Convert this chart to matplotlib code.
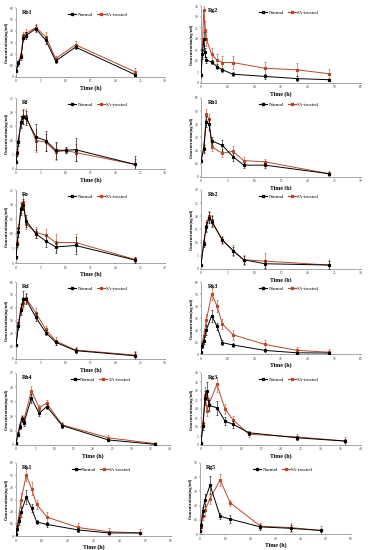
import matplotlib
matplotlib.use("Agg")
import matplotlib.pyplot as plt
from matplotlib.lines import Line2D

plt.rcParams['font.family'] = ['Liberation Serif', 'DejaVu Serif']

# ---------------- data ----------------
rb1_t = [0, 0.5, 1, 1.5, 2, 4, 6, 8, 12, 24]
rb1_normal = [5, 12, 17, 34, 36, 42, 32, 14, 26, 2]
rb1_sa = [6, 13, 19, 36, 38, 43, 35, 16, 28, 4.5]
rb1_normal_err = [1, 2, 2, 3, 3, 3, 3, 1.5, 2, 1]
rb1_sa_err = [1, 2, 2, 3, 4, 3, 4, 2, 3, 3]

rg2_t = [0, 0.5, 1, 1.5, 2, 4, 6, 8, 12, 24, 36, 48]
rg2_normal = [3.5, 13, 20, 14, 10.5, 9.5, 7.5, 6, 4, 3, 2, 1.5]
rg2_sa = [3.5, 15, 33, 24, 20, 13, 10.4, 9.3, 9.3, 6.7, 6, 4.2]
rg2_normal_err = [0.5, 2, 3, 2, 1.5, 1, 1, 1, 1, 1, 1, 0.5]
rg2_sa_err = [1, 3, 5, 4, 3, 3, 3, 3, 3, 3, 3, 2]

rf_t = [0, 0.25, 0.5, 1, 1.5, 2, 4, 6, 8, 10, 12, 24]
rf_normal = [2.5, 5.5, 9.5, 16.5, 18.2, 18, 11.3, 10, 6.6, 6.6, 6.8, 1.6]
rf_sa = [2.5, 6, 10, 16.7, 18.5, 18.8, 10, 9.5, 6, 6.5, 5.8, 1.6]
rf_normal_err = [0.5, 1, 1.5, 2, 2.5, 2.5, 4.5, 3.5, 3, 1, 4, 3]
rf_sa_err = [0.5, 1, 1.5, 2, 2.5, 2.5, 4, 3, 3, 1, 3, 2]

rh1_t = [0, 0.5, 1, 1.5, 2, 4, 6, 8, 12, 24]
rh1_normal = [12.5, 21, 42, 40, 27.5, 24, 15.5, 9, 9, 2.5]
rh1_sa = [12.5, 22, 47.5, 44, 23, 18, 19.5, 12.5, 11.5, 2.5]
rh1_normal_err = [1, 3, 4, 4, 3, 4, 3, 2, 2, 1]
rh1_sa_err = [1, 3, 4, 4, 3, 3, 4, 3, 2, 2]

re_t = [0, 0.25, 0.5, 1, 1.5, 2, 4, 6, 8, 12, 24]
re_normal = [2, 6.5, 10.5, 18.5, 20, 14.5, 10, 7.5, 5.5, 6, 1]
re_sa = [2, 7, 12, 19, 21, 13.5, 10.5, 9.5, 7, 7, 1.2]
re_normal_err = [0.5, 1, 1.5, 2, 2, 2, 1.5, 2, 2, 3, 1]
re_sa_err = [0.5, 1, 1.5, 2, 2.5, 2, 2, 2, 3, 3, 1]

rb2_t = [0, 0.5, 1, 1.5, 2, 4, 6, 8, 12, 24]
rb2_normal = [1.5, 9.5, 16, 19.5, 18, 11, 7, 3.5, 2, 1.5]
rb2_sa = [1.5, 10, 16.5, 20, 18.5, 11, 7, 3.5, 3, 1.5]
rb2_normal_err = [0.5, 1, 2, 2, 2, 1, 1.5, 1.5, 1.5, 1.5]
rb2_sa_err = [0.5, 1, 2, 2, 2, 1.5, 2, 2, 3, 2]

rd_t = [0, 0.5, 1, 1.5, 2, 4, 6, 8, 12, 24]
rd_normal = [11, 26, 38.5, 47, 46.5, 32.5, 20.5, 13, 6.5, 2.5]
rd_sa = [11, 28, 40, 44, 47.5, 36, 23, 14, 7, 3]
rd_normal_err = [1, 3, 4, 6, 4, 3, 2, 2, 2, 3]
rd_sa_err = [1, 3, 4, 4, 4, 4, 3, 3, 2, 3]

rk3_t = [0, 0.5, 1, 2, 4, 6, 8, 12, 24, 36, 48]
rk3_normal = [1.5, 7, 11, 20, 32, 23, 9.5, 7.5, 3, 1, 0.8]
rk3_sa = [1.5, 8, 15, 28, 50, 40, 25, 16, 8, 3, 1.5]
rk3_normal_err = [0.5, 2, 3, 4, 5, 3, 2, 2, 1, 0.5, 0.5]
rk3_sa_err = [0.5, 3, 4, 5, 5, 5, 4, 4, 4, 3, 3]

rh4_t = [0, 0.5, 1, 1.5, 2, 4, 6, 8, 12, 24, 36]
rh4_normal = [1.2, 7, 12.8, 18, 15, 32.5, 22, 26.7, 13.5, 3.5, 0.5]
rh4_sa = [1.2, 8, 13.5, 19, 17, 37.7, 26, 29, 14, 5, 1]
rh4_normal_err = [0.5, 1, 1.5, 2, 2, 3, 2, 2, 1.5, 1, 0.5]
rh4_sa_err = [0.5, 1, 2, 2, 2, 3, 2, 2, 2, 2, 1]

rg3_t = [0, 0.5, 1, 1.5, 2, 4, 6, 8, 12, 24, 36]
rg3_normal = [1.3, 10.5, 26, 30, 22, 20.7, 13.3, 11.5, 6.8, 4, 2.2]
rg3_sa = [1.3, 12, 28, 19, 23, 33.7, 20, 14, 6, 4.5, 2.2]
rg3_normal_err = [0.5, 2, 4, 5, 3, 4, 2, 2, 1, 1, 1]
rg3_sa_err = [0.5, 2, 4, 3, 3, 4, 3, 2, 1.5, 1.5, 2]

rk1_t = [0, 0.5, 1, 2, 4, 6, 8, 12, 24, 36, 48]
rk1_normal = [1.5, 6, 12, 20, 32, 23, 11.5, 9.5, 5, 2.5, 2.5]
rk1_sa = [1.5, 8, 15, 30, 50, 39, 26, 15.5, 7, 3.5, 2.5]
rk1_normal_err = [0.5, 2, 3, 4, 6, 3, 2, 2, 1.5, 1, 1]
rk1_sa_err = [0.5, 3, 4, 5, 5, 5, 4, 4, 4, 3, 3]

rg5_t = [0, 0.5, 1, 2, 4, 8, 12, 24, 36, 48]
rg5_normal = [2, 6, 16, 24, 34.5, 12.5, 10.5, 5, 4, 2.5]
rg5_sa = [2, 5, 13, 17, 25, 38, 22, 5.5, 4.5, 2.5]
rg5_normal_err = [0.5, 2, 3, 4, 6, 2, 3, 2, 2, 1]
rg5_sa_err = [0.5, 2, 3, 4, 4, 4, 2, 2, 3, 3]

panel_names = ['Rb1', 'Rg2', 'Rf', 'Rh1', 'Re', 'Rb2',
               'Rd', 'Rk3', 'Rh4', 'Rg3', 'Rk1', 'Rg5']

panels = [
    (rb1_t, rb1_normal, rb1_sa, rb1_normal_err, rb1_sa_err, (0, 30, 5), (0, 60, 10)),
    (rg2_t, rg2_normal, rg2_sa, rg2_normal_err, rg2_sa_err, (0, 60, 10), (0, 35, 5)),
    (rf_t, rf_normal, rf_sa, rf_normal_err, rf_sa_err, (0, 30, 5), (0, 25, 5)),
    (rh1_t, rh1_normal, rh1_sa, rh1_normal_err, rh1_sa_err, (0, 30, 5), (0, 60, 10)),
    (re_t, re_normal, re_sa, re_normal_err, re_sa_err, (0, 30, 5), (0, 25, 5)),
    (rb2_t, rb2_normal, rb2_sa, rb2_normal_err, rb2_sa_err, (0, 30, 5), (0, 30, 5)),
    (rd_t, rd_normal, rd_sa, rd_normal_err, rd_sa_err, (0, 30, 5), (0, 60, 10)),
    (rk3_t, rk3_normal, rk3_sa, rk3_normal_err, rk3_sa_err, (0, 60, 10), (0, 60, 10)),
    (rh4_t, rh4_normal, rh4_sa, rh4_normal_err, rh4_sa_err, (0, 40, 5), (0, 50, 10)),
    (rg3_t, rg3_normal, rg3_sa, rg3_normal_err, rg3_sa_err, (0, 40, 5), (0, 40, 5)),
    (rk1_t, rk1_normal, rk1_sa, rk1_normal_err, rk1_sa_err, (0, 60, 10), (0, 60, 10)),
    (rg5_t, rg5_normal, rg5_sa, rg5_normal_err, rg5_sa_err, (0, 60, 10), (0, 50, 10)),
]

NORMAL_C = '#000000'
SA_C = '#B5482A'

W, H = 369, 550
fig = plt.figure(figsize=(W / 100, H / 100), dpi=100)
fig.patch.set_facecolor('white')

# axes boxes in pixels: (left, top, right, bottom)
boxes = [
    (16, 8, 165, 77), (201, 6, 361, 83),
    (16, 98, 165, 169), (201, 98, 361, 177),
    (16, 190, 165, 263), (201, 190, 361, 269),
    (16, 282, 165, 359), (201, 282, 361, 354),
    (16, 373, 170, 445), (201, 373, 361, 445),
    (16, 463, 171, 536), (200, 463, 351, 534),
]

for name, (t, yn, ys, en, es, xr, yr), (l, tp, r, b) in zip(panel_names, panels, boxes):
    ax = fig.add_axes([l / W, 1 - b / H, (r - l) / W, (b - tp) / H])
    ax.errorbar(t, ys, yerr=es, color=SA_C, lw=0.7, marker='s', ms=1.3,
                elinewidth=0.4, capsize=0.8, capthick=0.4, label='SA-treated', zorder=2)
    ax.errorbar(t, yn, yerr=en, color=NORMAL_C, lw=0.7, marker='s', ms=1.3,
                elinewidth=0.4, capsize=0.8, capthick=0.4, label='Normal', zorder=3)
    ax.set_xlim(xr[0], xr[1])
    ax.set_ylim(yr[0], yr[1])
    ax.set_xticks(list(range(xr[0], xr[1] + 1, xr[2])))
    ax.set_yticks(list(range(yr[0], yr[1] + 1, yr[2])))
    ax.tick_params(labelsize=2.6, length=1, width=0.3, pad=0.8, colors='#333333')
    for s in ['top', 'right']:
        ax.spines[s].set_visible(False)
    for s in ['left', 'bottom']:
        ax.spines[s].set_linewidth(0.4)
        ax.spines[s].set_color('#666666')
    ax.set_xlabel('Time (h)', fontsize=4.2, fontweight='bold', labelpad=1)
    ax.set_ylabel('Concentration(ng/ml)', fontsize=3.2, fontweight='bold', labelpad=1)
    ax.text(0.04, 0.97, name, transform=ax.transAxes, fontsize=4.2,
            fontweight='bold', va='top', ha='left')
    handles = [Line2D([], [], color=NORMAL_C, lw=0.8, marker='s', ms=1.5),
               Line2D([], [], color=SA_C, lw=0.8, marker='s', ms=1.5)]
    ax.legend(handles, ['Normal', 'SA-treated'], loc='upper center',
              bbox_to_anchor=(0.55, 0.98), ncol=2, frameon=False, fontsize=3.6,
              handlelength=1.6, handletextpad=0.2, columnspacing=0.8,
              borderpad=0.1)

fig.savefig('out.png', dpi=100, facecolor='white')
